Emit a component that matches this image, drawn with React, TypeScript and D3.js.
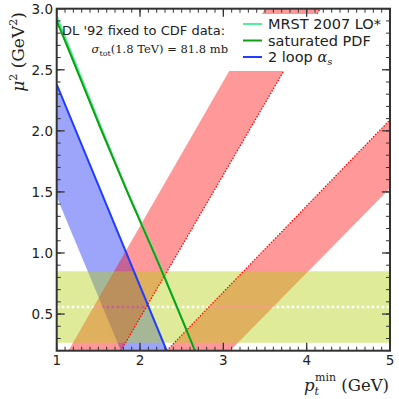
import React from 'react';
import * as d3 from 'd3';

// axis ranges and ticks
const xDomain = [1, 5];
const yDomain = [0.2, 3.0];
const xTicks = [1, 2, 3, 4, 5];
const yTicks = [0.5, 1.0, 1.5, 2.0, 2.5, 3.0];

// 2 loop alpha_s line and the blue band left of it
const blueLineX = [1.0, 2.32];
const blueLineY = [2.38, 0.2];
const blueEdgeX = [1.0, 1.77];
const blueEdgeY = [1.46, 0.2];

// saturated PDF and MRST 2007 LO* curves
const greenX = [1.0, 1.14, 1.52, 1.84, 2.2, 2.66];
const greenY = [2.9, 2.67, 2.03, 1.51, 0.95, 0.2];
const mrstX = [1.0, 1.14, 1.52, 1.84, 2.2, 2.66];
const mrstY = [2.94, 2.7, 2.05, 1.52, 0.96, 0.2];

// red bands: one solid edge, one dotted edge each
const red1SolidX = [1.14, 3.5];
const red1SolidY = [0.2, 3.0];
const red1DotX = [1.77, 4.16];
const red1DotY = [0.2, 3.0];
const red2DotX = [2.32, 5.0];
const red2DotY = [0.2, 2.09];
const red2SolidX = [3.08, 5.0];
const red2SolidY = [0.2, 1.53];

// horizontal yellow band
const yellowLow = 0.265;
const yellowHigh = 0.85;
const yellowMid = 0.557;

const legendLabels = ['MRST 2007 LO*', 'saturated PDF', '2 loop'];
const legendColors = ['#4ff0a0', '#11a011', '#1f3cff'];

const W = 399;
const H = 399;
const plot = { left: 56.7, right: 390, top: 8.7, bottom: 350.7 };

const zip = (xs: number[], ys: number[]) => xs.map((v, i) => [v, ys[i]] as [number, number]);

export default function App() {
  const x = d3.scaleLinear().domain(xDomain).range([plot.left, plot.right]);
  const y = d3.scaleLinear().domain(yDomain).range([plot.bottom, plot.top]);

  const line = d3.line<[number, number]>().x(d => x(d[0])).y(d => y(d[1]));
  const curve = d3.line<[number, number]>().x(d => x(d[0])).y(d => y(d[1])).curve(d3.curveMonotoneX);
  const poly = (pts: [number, number][]) => line(pts) + 'Z';

  const bluePoly = poly([...zip(blueLineX, blueLineY), ...zip(blueEdgeX, blueEdgeY).reverse()]);
  const red1Poly = poly([...zip(red1SolidX, red1SolidY), ...zip(red1DotX, red1DotY).reverse()]);
  const red2Poly = poly([...zip(red2DotX, red2DotY), ...zip(red2SolidX, red2SolidY).reverse()]);

  const xMinor = d3.range(xDomain[0], xDomain[1] + 0.0001, 0.1);
  const yMinor = d3.range(yDomain[0], yDomain[1] + 0.0001, 0.1);
  const axisColor = '#333';
  const sans = 'DejaVu Sans, sans-serif';
  const serif = 'DejaVu Serif, serif';

  return (
    <svg width={W} height={H} style={{ position: 'absolute', left: 0, top: 0, background: '#fff' }}>
      <defs>
        <clipPath id="plotclip">
          <rect x={plot.left} y={plot.top} width={plot.right - plot.left} height={plot.bottom - plot.top} />
        </clipPath>
        <mask id="yellowmask">
          <rect x={0} y={0} width={W} height={H} fill="white" />
          <line x1={plot.left} x2={plot.right} y1={y(yellowMid)} y2={y(yellowMid)}
            stroke="black" strokeWidth={2.5} strokeDasharray="2.5,2.5" />
        </mask>
      </defs>

      <g clipPath="url(#plotclip)">
        <path d={bluePoly} fill="rgb(0,24,242)" fillOpacity={0.39} />
        <path d={red1Poly} fill="red" fillOpacity={0.4} />
        <path d={red2Poly} fill="red" fillOpacity={0.4} />
        <rect x={plot.left} width={plot.right - plot.left} y={y(yellowHigh)} height={y(yellowLow) - y(yellowHigh)}
          fill="rgb(179,207,12)" fillOpacity={0.42} mask="url(#yellowmask)" />
        <path d={line(zip(red1DotX, red1DotY)) ?? ''} fill="none" stroke="red" strokeWidth={1.3} strokeDasharray="1.4,1.6" />
        <path d={line(zip(red2DotX, red2DotY)) ?? ''} fill="none" stroke="red" strokeWidth={1.3} strokeDasharray="1.4,1.6" />
        <path d={curve(zip(mrstX, mrstY)) ?? ''} fill="none" stroke={legendColors[0]} strokeWidth={2} />
        <path d={curve(zip(greenX, greenY)) ?? ''} fill="none" stroke={legendColors[1]} strokeWidth={2} />
        <path d={line(zip(blueLineX, blueLineY)) ?? ''} fill="none" stroke={legendColors[2]} strokeWidth={2} />

        {/* legend background */}
        <rect x={229} y={14} width={159} height={57} fill="white" />
      </g>

      {/* legend */}
      {legendLabels.map((lab, i) => {
        const ly = 24 + i * 16.5;
        return (
          <g key={lab}>
            <line x1={243} x2={262} y1={ly} y2={ly} stroke={legendColors[i]} strokeWidth={2} />
            <text x={268} y={ly + 5} fontFamily={sans} fontSize={14.5} fill="#222">
              {lab}
              {i === 2 && (
                <>
                  {' '}
                  <tspan fontFamily={serif} fontStyle="italic">α</tspan>
                  <tspan fontFamily={serif} fontStyle="italic" fontSize={10} dy={3}>s</tspan>
                </>
              )}
            </text>
          </g>
        );
      })}

      {/* annotation */}
      <text x={62} y={35} fontFamily={sans} fontSize={13} fill="#222">DL '92 fixed to CDF data:</text>
      <text x={228} y={53} textAnchor="end" fontFamily={serif} fontSize={11.5} fill="#222">
        <tspan fontStyle="italic">σ</tspan>
        <tspan fontSize={8} dy={3}>tot</tspan>
        <tspan dy={-3}>(1.8 TeV) = 81.8 mb</tspan>
      </text>

      {/* frame */}
      <rect x={plot.left} y={plot.top} width={plot.right - plot.left} height={plot.bottom - plot.top}
        fill="none" stroke={axisColor} strokeWidth={2} />

      {/* minor ticks */}
      {xMinor.map(v => (
        <g key={'xm' + v}>
          <line x1={x(v)} x2={x(v)} y1={plot.bottom} y2={plot.bottom - 4} stroke={axisColor} strokeWidth={1} />
          <line x1={x(v)} x2={x(v)} y1={plot.top} y2={plot.top + 4} stroke={axisColor} strokeWidth={1} />
        </g>
      ))}
      {yMinor.map(v => (
        <g key={'ym' + v}>
          <line x1={plot.left} x2={plot.left + 4} y1={y(v)} y2={y(v)} stroke={axisColor} strokeWidth={1} />
          <line x1={plot.right} x2={plot.right - 4} y1={y(v)} y2={y(v)} stroke={axisColor} strokeWidth={1} />
        </g>
      ))}

      {/* major ticks and labels */}
      {xTicks.map(v => (
        <g key={'xt' + v}>
          <line x1={x(v)} x2={x(v)} y1={plot.bottom} y2={plot.bottom - 8} stroke={axisColor} strokeWidth={1.3} />
          <line x1={x(v)} x2={x(v)} y1={plot.top} y2={plot.top + 8} stroke={axisColor} strokeWidth={1.3} />
          <text x={x(v)} y={365} textAnchor="middle" fontFamily={sans} fontSize={13.5} fill="#222">{v}</text>
        </g>
      ))}
      {yTicks.map(v => (
        <g key={'yt' + v}>
          <line x1={plot.left} x2={plot.left + 8} y1={y(v)} y2={y(v)} stroke={axisColor} strokeWidth={1.3} />
          <line x1={plot.right} x2={plot.right - 8} y1={y(v)} y2={y(v)} stroke={axisColor} strokeWidth={1.3} />
          <text x={53} y={y(v) + 4.8} textAnchor="end" fontFamily={sans} fontSize={13.5} fill="#222">{v.toFixed(1)}</text>
        </g>
      ))}

      {/* axis titles */}
      <text transform="translate(24,52) rotate(-90)" textAnchor="middle" fontFamily={serif} fontSize={17} fill="#222">
        <tspan fontStyle="italic">μ</tspan>
        <tspan fontSize={11} dy={-7}>2</tspan>
        <tspan dy={7}> (GeV</tspan>
        <tspan fontSize={11} dy={-7}>2</tspan>
        <tspan dy={7}>)</tspan>
      </text>
      <text x={389} y={391} textAnchor="end" fontFamily={serif} fontSize={16.5} fill="#222">
        <tspan fontStyle="italic">p</tspan>
        <tspan fontStyle="italic" fontSize={11} dy={4}>t</tspan>
        <tspan fontSize={11} dx={-4} dy={-14}>min</tspan>
        <tspan dy={10}> (GeV)</tspan>
      </text>
    </svg>
  );
}
